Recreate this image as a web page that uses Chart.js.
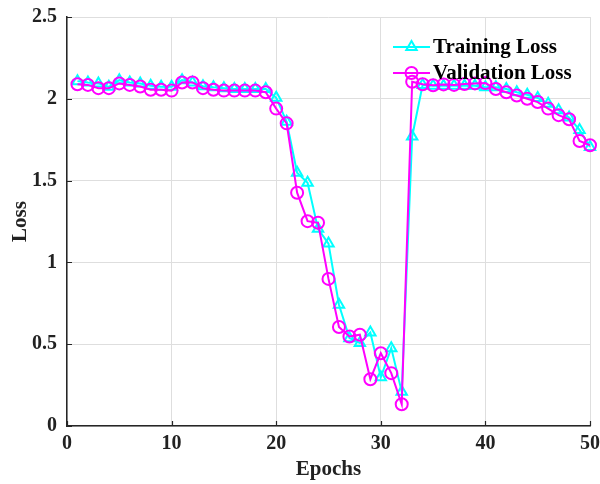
<!DOCTYPE html>
<html>
<head>
<meta charset="utf-8">
<script src="https://cdn.jsdelivr.net/npm/chart.js@4.4.1/dist/chart.umd.min.js"></script>
<style>
  html, body { margin: 0; padding: 0; background: #fff; }
  #wrap { width: 600px; height: 484px; }
</style>
</head>
<body>
<div id="wrap"><canvas id="lossChart" width="600" height="484"></canvas></div>
<script>
// epochs 1..50
const epochs = Array.from({ length: 50 }, (_, i) => i + 1);

// values
const trainingLoss = [
  2.108, 2.100, 2.094, 2.073, 2.114, 2.100, 2.094, 2.080, 2.073, 2.073,
  2.114, 2.100, 2.077, 2.070, 2.065, 2.060, 2.060, 2.060, 2.060, 2.006,
  1.860, 1.548, 1.487, 1.205, 1.115, 0.741, 0.537, 0.507, 0.572, 0.298,
  0.476, 0.210, 1.770, 2.085, 2.080, 2.080, 2.080, 2.080, 2.080, 2.070,
  2.070, 2.060, 2.040, 2.025, 2.005, 1.970, 1.930, 1.885, 1.810, 1.705
];
const validationLoss = [
  2.089, 2.085, 2.065, 2.065, 2.094, 2.085, 2.075, 2.055, 2.055, 2.050,
  2.100, 2.100, 2.065, 2.055, 2.050, 2.050, 2.050, 2.050, 2.040, 1.940,
  1.850, 1.426, 1.252, 1.242, 0.899, 0.605, 0.547, 0.558, 0.286, 0.445,
  0.323, 0.133, 2.104, 2.089, 2.083, 2.088, 2.085, 2.090, 2.094, 2.096,
  2.060, 2.040, 2.020, 2.000, 1.980, 1.940, 1.900, 1.875, 1.742, 1.716
];

const xTicks = [0, 10, 20, 30, 40, 50];
const yTicks = [0, 0.5, 1, 1.5, 2, 2.5];

const SERIF = "'Liberation Serif', 'Times New Roman', serif";
const CYAN = '#00FFFF';
const MAGENTA = '#FF00FF';
const AXIS = '#262626';
const GRID = '#dedede';

// legend drawn inside the plot, top-right (like the original figure)
const insideLegend = {
  id: 'insideLegend',
  afterDraw(chart) {
    const ctx = chart.ctx;
    const items = [
      { ds: chart.data.datasets[1], y: 47 },
      { ds: chart.data.datasets[0], y: 73 },
    ];
    ctx.save();
    items.forEach(it => {
      const x0 = 393, x1 = 430, xm = (x0 + x1) / 2;
      ctx.strokeStyle = it.ds.borderColor;
      ctx.lineWidth = 2;
      ctx.beginPath();
      ctx.moveTo(x0, it.y);
      ctx.lineTo(x1, it.y);
      ctx.stroke();
      ctx.fillStyle = 'rgba(0,0,0,0)';
      ctx.strokeStyle = it.ds.pointBorderColor;
      ctx.lineWidth = it.ds.pointBorderWidth;
      Chart.helpers.drawPoint(ctx, {
        pointStyle: it.ds.pointStyle, radius: it.ds.pointRadius,
        borderWidth: it.ds.pointBorderWidth, rotation: 0
      }, xm, it.y);
      ctx.fillStyle = '#000';
      ctx.font = 'bold 21px ' + SERIF;
      ctx.textBaseline = 'middle';
      ctx.textAlign = 'left';
      ctx.fillText(it.ds.label, 433, it.y + 1);
    });
    ctx.restore();
  }
};

// short inward tick marks on left and bottom axes
const innerTicks = {
  id: 'innerTicks',
  afterDatasetsDraw(chart) {
    const { ctx, chartArea, scales } = chart;
    ctx.save();
    ctx.strokeStyle = AXIS;
    ctx.lineWidth = 1.2;
    ctx.beginPath();
    xTicks.forEach(v => {
      const px = Math.round(scales.x.getPixelForValue(v)) + 0.5;
      ctx.moveTo(px, chartArea.bottom);
      ctx.lineTo(px, chartArea.bottom - 5);
    });
    yTicks.forEach(v => {
      const py = Math.round(scales.y.getPixelForValue(v)) + 0.5;
      ctx.moveTo(chartArea.left, py);
      ctx.lineTo(chartArea.left + 5, py);
    });
    ctx.stroke();
    ctx.restore();
  }
};

new Chart(document.getElementById('lossChart'), {
  type: 'line',
  data: {
    labels: epochs,
    datasets: [
      {
        label: 'Validation Loss',
        data: validationLoss,
        borderColor: MAGENTA,
        backgroundColor: 'rgba(0,0,0,0)',
        pointBackgroundColor: 'rgba(0,0,0,0)',
        pointBorderColor: MAGENTA,
        pointStyle: 'circle',
        pointRadius: 6,
        pointBorderWidth: 2,
        borderWidth: 2,
        tension: 0,
        clip: false,
      },
      {
        label: 'Training Loss',
        data: trainingLoss,
        borderColor: CYAN,
        backgroundColor: 'rgba(0,0,0,0)',
        pointBackgroundColor: 'rgba(0,0,0,0)',
        pointBorderColor: CYAN,
        pointStyle: 'triangle',
        pointRadius: 6,
        pointBorderWidth: 2,
        borderWidth: 2,
        tension: 0,
        clip: false,
      }
    ]
  },
  options: {
    responsive: false,
    animation: false,
    devicePixelRatio: 1,
    layout: { padding: { top: 17, right: 10, left: 0, bottom: 0 } },
    plugins: { legend: { display: false }, tooltip: { enabled: false } },
    scales: {
      x: {
        type: 'linear',
        min: 0, max: 50,
        afterBuildTicks: s => { s.ticks = xTicks.map(v => ({ value: v })); },
        afterFit: s => { s.height = 58; s.paddingLeft = 0; s.paddingRight = 0; },
        grid: { color: GRID, lineWidth: 1, drawTicks: false },
        border: { color: AXIS, width: 1.5 },
        ticks: { color: '#222', padding: 6, maxRotation: 0, font: { family: SERIF, size: 20, weight: 'bold' } },
        title: { display: true, text: 'Epochs', color: '#222', padding: { top: 0, bottom: 2 }, font: { family: SERIF, size: 21, weight: 'bold' } }
      },
      y: {
        min: 0, max: 2.5,
        afterBuildTicks: s => { s.ticks = yTicks.map(v => ({ value: v })); },
        afterFit: s => { s.width = 67; s.paddingTop = 0; s.paddingBottom = 0; },
        grid: { color: GRID, lineWidth: 1, drawTicks: false },
        border: { color: AXIS, width: 1.5 },
        ticks: { color: '#222', padding: 10, callback: v => String(v), font: { family: SERIF, size: 20, weight: 'bold' } },
        title: { display: true, text: 'Loss', color: '#222', padding: { top: 8, bottom: 0 }, font: { family: SERIF, size: 21, weight: 'bold' } }
      }
    }
  },
  plugins: [innerTicks, insideLegend]
});
</script>
</body>
</html>
